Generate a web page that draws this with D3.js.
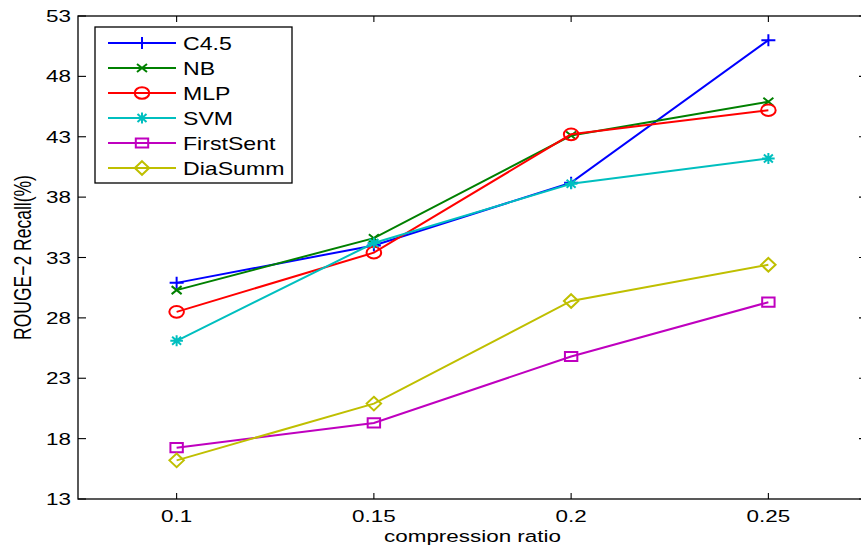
<!DOCTYPE html>
<html>
<head>
<meta charset="utf-8">
<script src="https://cdn.jsdelivr.net/npm/d3@7"></script>
<style>
  body { margin: 0; background: #fff; }
  svg text { font-family: "Liberation Sans", Arial, Helvetica, sans-serif; fill: #000; }
</style>
</head>
<body>
<div id="chart"></div>
<script>
const ratios = [0.1, 0.15, 0.2, 0.25]
const c45 = [30.9, 34.0, 39.2, 51.0]
const nb = [30.3, 34.6, 43.1, 45.9]
const mlp = [28.5, 33.4, 43.2, 45.2]
const svm = [26.1, 34.2, 39.1, 41.2]
const firstSent = [17.25, 19.3, 24.8, 29.3]
const diaSumm = [16.2, 20.9, 29.4, 32.4]
const yTicks = [13, 18, 23, 28, 33, 38, 43, 48, 53]
const xTicks = [0.1, 0.15, 0.2, 0.25]

const series = [
  {name: "C4.5", values: c45, color: "#0000ff", marker: "plus"},
  {name: "NB", values: nb, color: "#008000", marker: "x"},
  {name: "MLP", values: mlp, color: "#ff0000", marker: "circle"},
  {name: "SVM", values: svm, color: "#00bfbf", marker: "star"},
  {name: "FirstSent", values: firstSent, color: "#bf00bf", marker: "square"},
  {name: "DiaSumm", values: diaSumm, color: "#bfbf00", marker: "diamond"}
]

const w = 861
const h = 549
const pLeft = 78, pRight = 867, pTop = 16, pBottom = 499
const sx = 1.32  // picture is stretched sideways

const x = d3.scaleLinear().domain([0.075, 0.275]).range([pLeft, pRight])
const y = d3.scaleLinear().domain([13, 53]).range([pBottom, pTop])

const svg = d3.select("#chart").append("svg")
  .attr("width", w)
  .attr("height", h)

// marker shapes, drawn as paths around (0,0)
function markerPath(type){
  switch(type){
    case "plus": return "M-7,0H7M0,-6V6"
    case "x": return "M-5,-4L5,4M-5,4L5,-4"
    case "circle": return "M-7.3,0A7.3,5.8 0 1,0 7.3,0A7.3,5.8 0 1,0 -7.3,0Z"
    case "star": return "M-6.3,0H6.3M0,-5.5V5.5M-4.5,-4L4.5,4M-4.5,4L4.5,-4"
    case "square": return "M-6.2,-4.6H6.2V4.6H-6.2Z"
    case "diamond": return "M0,-6.8L7.2,0L0,6.8L-7.2,0Z"
  }
}

function stretchText(g, tx, ty, str, size, anchor){
  g.append("text")
    .attr("transform", "translate(" + tx + "," + ty + ") scale(" + sx + ",1)")
    .attr("font-size", size)
    .attr("text-anchor", anchor)
    .text(str)
}

// box
svg.append("rect")
  .attr("x", pLeft).attr("y", pTop)
  .attr("width", pRight - pLeft).attr("height", pBottom - pTop)
  .attr("fill", "none").attr("stroke", "#000").attr("stroke-width", 1.3)

// ticks
const axisG = svg.append("g").attr("stroke", "#000").attr("stroke-width", 1.1)
yTicks.forEach(function(t){
  axisG.append("line").attr("x1", pLeft).attr("x2", pLeft + 8).attr("y1", y(t)).attr("y2", y(t))
  axisG.append("line").attr("x1", pRight).attr("x2", pRight - 8).attr("y1", y(t)).attr("y2", y(t))
})
xTicks.forEach(function(t){
  axisG.append("line").attr("x1", x(t)).attr("x2", x(t)).attr("y1", pBottom).attr("y2", pBottom - 6)
  axisG.append("line").attr("x1", x(t)).attr("x2", x(t)).attr("y1", pTop).attr("y2", pTop + 6)
})

const labels = svg.append("g")
yTicks.forEach(function(t){
  stretchText(labels, 71, y(t) + 6, t, 17, "end")
})
xTicks.forEach(function(t){
  stretchText(labels, x(t), 522, t, 17, "middle")
})
stretchText(labels, (pLeft + pRight) / 2, 542, "compression ratio", 17, "middle")

labels.append("text")
  .attr("transform", "translate(31," + ((pTop + pBottom) / 2) + ") scale(" + sx + ",1) rotate(-90)")
  .attr("font-size", 17.5)
  .attr("text-anchor", "middle")
  .text("ROUGE\u22122 Recall(%)")

// lines + markers
const line = d3.line()
  .x(function(d, i){ return x(ratios[i]) })
  .y(function(d){ return y(d) })

series.forEach(function(s){
  const g = svg.append("g")
  g.append("path")
    .attr("d", line(s.values))
    .attr("fill", "none")
    .attr("stroke", s.color)
    .attr("stroke-width", 2)
  g.selectAll("path.mk")
    .data(s.values)
    .enter()
    .append("path")
    .attr("class", "mk")
    .attr("transform", function(d, i){ return "translate(" + x(ratios[i]) + "," + y(d) + ")" })
    .attr("d", markerPath(s.marker))
    .attr("fill", "none")
    .attr("stroke", s.color)
    .attr("stroke-width", 2)
})

// legend
const leg = svg.append("g")
leg.append("rect")
  .attr("x", 95).attr("y", 27)
  .attr("width", 197).attr("height", 156)
  .attr("fill", "#fff").attr("stroke", "#000").attr("stroke-width", 1.3)

series.forEach(function(s, i){
  const ly = 43 + i * 25
  leg.append("line")
    .attr("x1", 108).attr("x2", 176).attr("y1", ly).attr("y2", ly)
    .attr("stroke", s.color).attr("stroke-width", 2)
  leg.append("path")
    .attr("transform", "translate(142," + ly + ")")
    .attr("d", markerPath(s.marker))
    .attr("fill", "none").attr("stroke", s.color).attr("stroke-width", 2)
  stretchText(leg, 183, ly + 6.5, s.name, 17.5, "start")
})
</script>
</body>
</html>
